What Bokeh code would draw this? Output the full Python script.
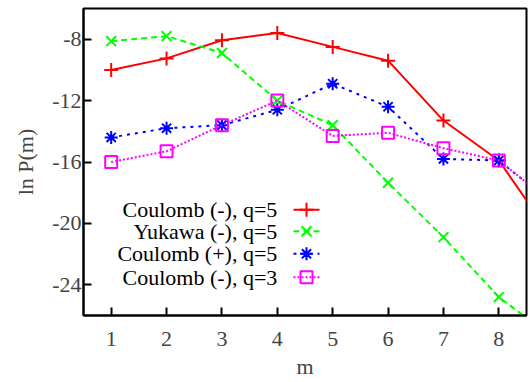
from bokeh.plotting import figure
from bokeh.models import Range1d, FixedTicker
from bokeh.core.properties import value
from bokeh.embed import file_html
from bokeh.resources import INLINE

m = [1, 2, 3, 4, 5, 6, 7, 8, 9]
coulomb_neg_q5 = [-10.0, -9.25, -8.07, -7.6, -8.5, -9.4, -13.3, -15.9, -21.1]
yukawa_neg_q5 = [-8.13, -7.8, -8.9, -12.0, -13.6, -17.35, -20.9, -24.8, -27.5]
coulomb_pos_q5 = [-14.4, -13.8, -13.6, -12.6, -10.9, -12.4, -15.8, -15.9, -18.8]
coulomb_neg_q3 = [-16.0, -15.3, -13.6, -12.0, -14.3, -14.1, -15.1, -15.9, -18.8]
labels = ["Coulomb (-), q=5", "Yukawa (-), q=5", "Coulomb (+), q=5", "Coulomb (-), q=3"]
x_ticks = [1, 2, 3, 4, 5, 6, 7, 8]
y_ticks = [-24, -20, -16, -12, -8]
y_tick_labels = {t: str(t) for t in y_ticks}

FONT = "Liberation Serif"
FS = "22px"

p = figure(width=530, height=382, output_backend="svg", toolbar_location=None,
           x_range=Range1d(0.5, 8.5), y_range=Range1d(-26, -6),
           min_border_left=83, min_border_right=4, min_border_top=8, min_border_bottom=67)
p.grid.visible = False
p.outline_line_color = "black"
p.outline_line_width = 2
p.background_fill_color = "white"
p.border_fill_color = "white"

for ax in (p.xaxis[0], p.yaxis[0]):
    ax.axis_line_width = 2
    ax.major_tick_in = 8
    ax.major_tick_out = 0
    ax.major_tick_line_width = 2
    ax.minor_tick_line_color = None
    ax.major_label_text_font = FONT
    ax.major_label_text_font_size = FS
    ax.axis_label_text_font = FONT
    ax.axis_label_text_font_size = FS
    ax.axis_label_text_font_style = "normal"

p.xaxis.ticker = FixedTicker(ticks=x_ticks)
p.yaxis.ticker = FixedTicker(ticks=y_ticks)
p.yaxis.major_label_overrides = y_tick_labels
p.xaxis.major_label_standoff = 16
p.yaxis.major_label_standoff = 2
p.yaxis.axis_label = "ln P(m)"
p.yaxis.axis_label_standoff = 11
p.xaxis.axis_label = "m"
p.xaxis.axis_label_standoff = 5

styles = [
    (coulomb_neg_q5, "#ff0000", "solid", "cross", 14),
    (yukawa_neg_q5, "#00ff00", "6 4", "x", 14),
    (coulomb_pos_q5, "#0000ff", "3 5", "asterisk", 13),
    (coulomb_neg_q3, "#ff00ff", "2 2", "square", 12),
]

for ys, c, dash, mk, sz in styles:
    p.line(m, ys, line_color=c, line_width=2, line_dash=dash)
    p.scatter(m, ys, marker=mk, size=sz, line_color=c, fill_color=None, line_width=2)

# manual legend (label right, sample on right)
leg_text_x = 4.00
leg_x0, leg_x1, leg_xm = 4.292, 4.762, 4.527
leg_y = [-19.11, -20.51, -21.98, -23.50]
for (ys, c, dash, mk, sz), lab, ly in zip(styles, labels, leg_y):
    p.text([leg_text_x], [ly], text=[lab], text_align="right", text_baseline="middle",
           text_font=value(FONT), text_font_size=FS, text_color="black")
    p.line([leg_x0, leg_x1], [ly, ly], line_color=c, line_width=2, line_dash=dash)
    p.scatter([leg_xm], [ly], marker=mk, size=sz, line_color=c, fill_color=None, line_width=2)

open("out.html", "w").write(file_html(p, INLINE))
